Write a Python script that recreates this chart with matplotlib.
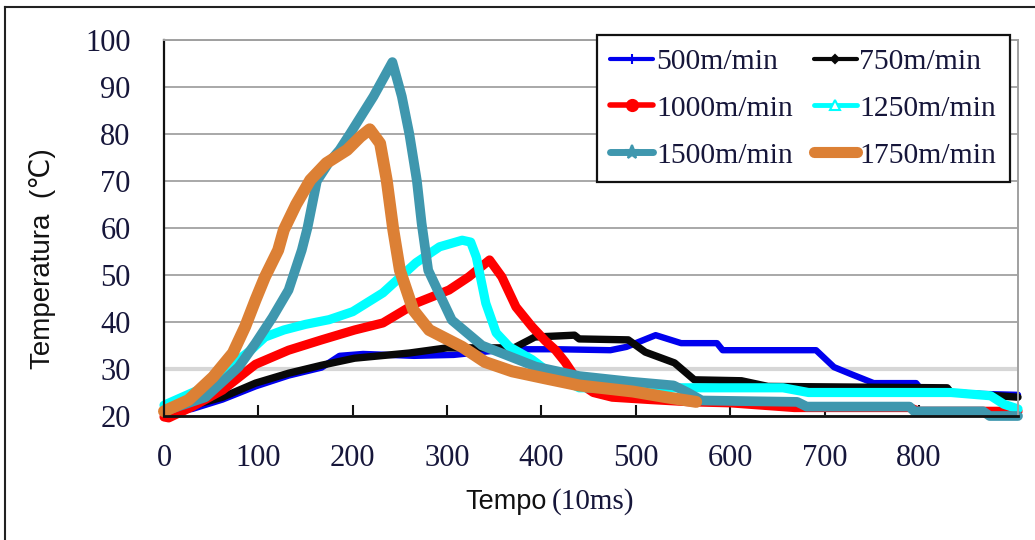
import matplotlib
matplotlib.use("Agg")
import matplotlib.pyplot as plt
from matplotlib.lines import Line2D

# ---------------- data ----------------
labels = ["500m/min", "750m/min", "1000m/min", "1250m/min", "1500m/min", "1750m/min"]

t500 = [0, 30, 62, 97, 132, 167, 186, 211, 265, 307, 365, 418, 473, 490, 521, 548, 586, 592,
        691, 710, 727, 752, 797, 805, 905]
v500 = [20.5, 21.5, 23.5, 26.3, 28.6, 30.3, 32.8, 33.2, 32.8, 33.0, 34.2, 34.2, 34.0, 34.7,
        37.2, 35.5, 35.5, 34.0, 34.0, 30.4, 29.0, 27.0, 27.0, 25.0, 24.5]

t750 = [0, 26, 62, 97, 132, 167, 202, 260, 300, 371, 393, 435, 440, 492, 510, 541, 562,
        612, 640, 830, 834, 869, 905]
v750 = [20.5, 22.0, 24.0, 27.0, 29.1, 30.8, 32.3, 33.4, 34.5, 34.5, 36.8, 37.2, 36.4, 36.2,
        33.6, 31.3, 27.7, 27.5, 26.3, 26.0, 25.0, 24.5, 24.0]

t1000 = [0, 5, 30, 62, 97, 132, 167, 202, 232, 267, 302, 323, 345, 358, 373, 390, 404, 415,
         425, 440, 455, 475, 515, 560, 600, 668, 680, 790, 800, 905]
v1000 = [19.8, 19.6, 22.0, 25.5, 31.0, 34.0, 36.2, 38.3, 39.8, 44.0, 46.8, 49.6, 53.2, 49.6,
         43.2, 39.0, 36.0, 34.0, 31.5, 27.0, 25.0, 24.0, 23.5, 23.0, 22.8, 21.8, 21.8, 21.8,
         21.0, 21.0]

t1250 = [0, 44, 79, 92, 107, 127, 150, 175, 200, 232, 267, 292, 316, 325, 331, 341, 352, 366,
         390, 410, 440, 544, 656, 683, 834, 876, 890, 905]
v1250 = [22.3, 26.2, 32.0, 34.0, 36.8, 38.3, 39.5, 40.5, 42.2, 46.2, 52.6, 56.0, 57.4, 57.0,
         53.8, 44.0, 37.7, 34.7, 32.0, 29.0, 26.0, 26.0, 26.0, 25.0, 25.0, 24.3, 22.5, 21.5]

t1500 = [0, 44, 79, 97, 115, 132, 146, 152, 162, 175, 186, 197, 222, 242, 252, 260, 268, 273,
         280, 305, 337, 394, 440, 495, 540, 555, 570, 671, 681, 790, 795, 868, 875, 905]
v1500 = [21.0, 24.0, 30.4, 35.5, 41.0, 46.8, 55.3, 60.0, 70.0, 74.0, 76.6, 80.0, 88.0, 95.3,
         88.0, 80.0, 70.0, 61.0, 51.0, 40.4, 35.0, 30.5, 28.5, 27.3, 26.5, 25.0, 23.3, 23.0,
         22.0, 22.0, 21.0, 21.0, 20.0, 20.0]

t1750 = [0, 26, 52, 73, 86, 97, 107, 121, 127, 140, 155, 172, 194, 208, 218, 229, 236, 243,
         250, 264, 281, 316, 340, 369, 404, 440, 497, 532, 564]
v1750 = [21.0, 23.4, 28.3, 33.4, 39.0, 44.7, 49.6, 55.3, 59.6, 65.0, 70.2, 73.8, 76.6, 79.4,
         81.0, 78.0, 70.2, 59.6, 51.0, 42.6, 38.3, 34.7, 31.5, 29.5, 28.0, 26.5, 25.2, 24.0, 23.0]

x_ticks = [0, 100, 200, 300, 400, 500, 600, 700, 800]
y_ticks = [20, 30, 40, 50, 60, 70, 80, 90, 100]

# ---------------- styling ----------------
colors = ["#0000ee", "#080808", "#ff0000", "#00ffff", "#3f97ae", "#dc8035"]
widths = [4.6, 5.3, 6.6, 6.6, 7.0, 8.6]
series_t = [t500, t750, t1000, t1250, t1500, t1750]
series_v = [v500, v750, v1000, v1250, v1500, v1750]

serif = ["Liberation Serif", "DejaVu Serif"]
sans = ["Liberation Sans", "DejaVu Sans"]
txt_color = "#16163a"

W, H = 1035, 540
fig = plt.figure(figsize=(W / 100, H / 100), dpi=100)
ax = fig.add_axes([164 / W, 1 - 416 / H, (1018 - 164) / W, (416 - 40) / H])

for t, v, c, lw in zip(series_t, series_v, colors, widths):
    ax.plot(t, v, color=c, lw=lw, solid_capstyle="round", solid_joinstyle="round",
            clip_on=False)

ax.set_xlim(0, 905)
ax.set_ylim(20, 100)
ax.set_xticks(x_ticks)
ax.set_yticks(y_ticks)
ax.set_xticklabels([str(x) for x in x_ticks], fontfamily=serif, fontsize=22, color=txt_color)
ax.set_yticklabels([str(y) for y in y_ticks], fontfamily=serif, fontsize=22, color=txt_color)
ax.tick_params(axis="x", direction="in", length=8, width=1.5, pad=20, colors="#111111",
               labelcolor=txt_color)
ax.tick_params(axis="y", length=0, pad=24, labelcolor=txt_color)

ax.yaxis.grid(True, color="#a8a8a8", lw=1.4)
ax.set_axisbelow(True)
for val, gl in zip(y_ticks, ax.get_ygridlines()):
    if val == 30:
        gl.set_color("#d6d6d6")
        gl.set_linewidth(3.0)

for side in ["top", "right"]:
    ax.spines[side].set_color("#a0a0a0")
    ax.spines[side].set_linewidth(1.4)
ax.spines["left"].set_color("#111111")
ax.spines["left"].set_linewidth(1.6)
ax.spines["bottom"].set_color("#111111")
ax.spines["bottom"].set_linewidth(2.0)

# labels
fig.text(43 / W, 1 - 259 / H, "Temperatura  (\u2103)", rotation=90, ha="center", va="center",
         fontsize=20, family=sans, color="#111111")
fig.text(547 / W, 1 - 502 / H, "Tempo", ha="right", va="center", fontsize=19.5,
         family=sans, color="#111111")
fig.text(552 / W, 1 - 502 / H, "(10ms)", ha="left", va="center", fontsize=21,
         family=serif, color=txt_color)

# legend (proxies with the marker styles of the original)
markers = ["+", "D", "o", "^", "*", None]
msizes = [7, 4, 8, 7, 10, 0]
leg_lw = [3.0, 3.0, 4.0, 3.5, 5.0, 8.0]
handles = []
for c, m, ms, lw in zip(colors, markers, msizes, leg_lw):
    mfc = "white" if m == "^" else c
    handles.append(Line2D([], [], color=c, lw=lw, marker=m, markersize=ms,
                          markerfacecolor=mfc, markeredgecolor=c, markeredgewidth=1.5,
                          solid_capstyle="round"))
order = [0, 2, 4, 1, 3, 5]
leg = ax.legend([handles[i] for i in order], [labels[i] for i in order], ncol=2,
                loc="upper left", bbox_to_anchor=(597 / W, 1 - 35 / H),
                bbox_transform=fig.transFigure, frameon=True, fancybox=False,
                edgecolor="#111111", framealpha=1, borderpad=0.45, handlelength=1.45,
                handletextpad=0.1, columnspacing=0.7, labelspacing=0.68,
                borderaxespad=0, prop={"family": serif, "size": 21.3})
leg.get_frame().set_linewidth(1.6)
for txt in leg.get_texts():
    txt.set_color(txt_color)

# outer frame lines of the figure image
fig.add_artist(Line2D([5 / W, 1], [1 - 7 / H, 1 - 7 / H], color="#222222", lw=1.5,
                      transform=fig.transFigure))
fig.add_artist(Line2D([5 / W, 5 / W], [0, 1 - 7 / H], color="#222222", lw=1.5,
                      transform=fig.transFigure))

fig.savefig("out.png", dpi=100)
